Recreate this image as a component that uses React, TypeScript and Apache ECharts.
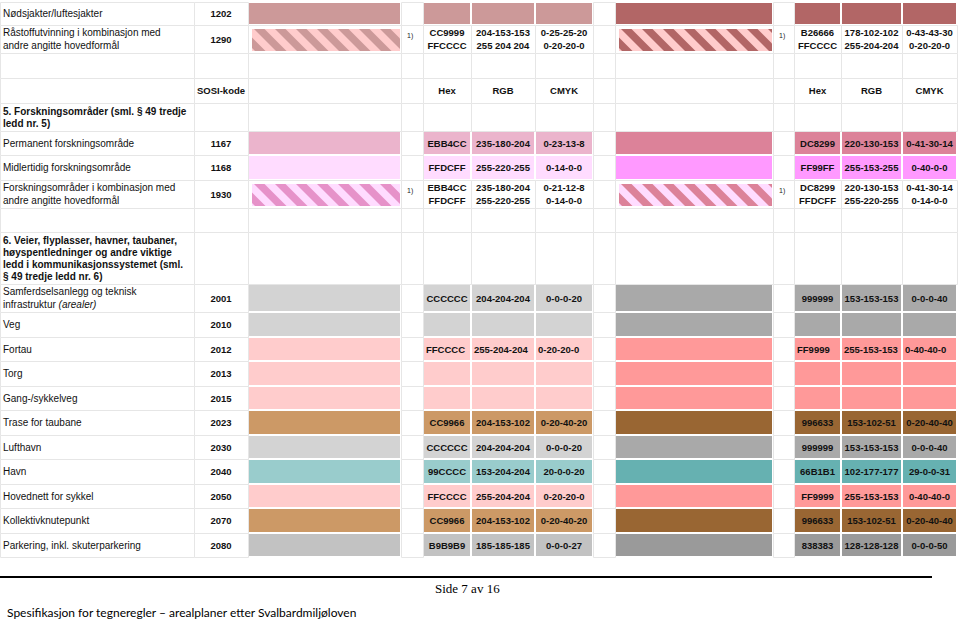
import React, { useEffect, useRef } from "react";
import * as echarts from "echarts";

// ---------- data ----------
const rowKinds = [
  "color", "hatch", "blank", "header", "section", "color", "color", "hatch", "blank", "section",
  "color", "color", "color", "color", "color", "color", "color", "color", "color", "color", "color",
];

const rowNames = [
  "Nødsjakter/luftesjakter",
  "Råstoffutvinning i kombinasjon med\nandre angitte hovedformål",
  "",
  "",
  "5. Forskningsområder (sml. § 49 tredje\nledd nr. 5)",
  "Permanent forskningsområde",
  "Midlertidig forskningsområde",
  "Forskningsområder i kombinasjon med\nandre angitte hovedformål",
  "",
  "6. Veier, flyplasser, havner, taubaner,\nhøyspentledninger og andre viktige\nledd i kommunikasjonssystemet (sml.\n§ 49 tredje ledd nr. 6)",
  "Samferdselsanlegg og teknisk\ninfrastruktur {i|(arealer)}",
  "Veg",
  "Fortau",
  "Torg",
  "Gang-/sykkelveg",
  "Trase for taubane",
  "Lufthavn",
  "Havn",
  "Hovednett for sykkel",
  "Kollektivknutepunkt",
  "Parkering, inkl. skuterparkering",
];

const sosiCodes = [
  "1202", "1290", "", "SOSI-kode", "", "1167", "1168", "1930", "", "",
  "2001", "2010", "2012", "2013", "2015", "2023", "2030", "2040", "2050", "2070", "2080",
];

const fill1 = [
  "#CC9999", "#CC9999", "", "", "", "#EBB4CC", "#FFDCFF", "#E692C9", "", "",
  "#D3D3D3", "#D3D3D3", "#FFCCCC", "#FFCCCC", "#FFCCCC", "#CC9966", "#D3D3D3", "#99CCCC", "#FFCCCC", "#CC9966", "#C2C2C2",
];
const hatchBg1 = ["", "#FFCCCC", "", "", "", "", "", "#FFDCFF", "", "", "", "", "", "", "", "", "", "", "", "", ""];

const fill2 = [
  "#B26666", "#B26666", "", "", "", "#DC8299", "#FF99FF", "#DC8299", "", "",
  "#A9A9A9", "#A9A9A9", "#FF9999", "#FF9999", "#FF9999", "#996633", "#A9A9A9", "#66B1B1", "#FF9999", "#996633", "#9A9A9A",
];
const hatchBg2 = ["", "#FFCCCC", "", "", "", "", "", "#FFDCFF", "", "", "", "", "", "", "", "", "", "", "", "", ""];

const hex1 = ["", "CC9999\nFFCCCC", "", "Hex", "", "EBB4CC", "FFDCFF", "EBB4CC\nFFDCFF", "", "",
  "CCCCCC", "", "FFCCCC", "", "", "CC9966", "CCCCCC", "99CCCC", "FFCCCC", "CC9966", "B9B9B9"];
const rgb1 = ["", "204-153-153\n255 204 204", "", "RGB", "", "235-180-204", "255-220-255", "235-180-204\n255-220-255", "", "",
  "204-204-204", "", "255-204-204", "", "", "204-153-102", "204-204-204", "153-204-204", "255-204-204", "204-153-102", "185-185-185"];
const cmyk1 = ["", "0-25-25-20\n0-20-20-0", "", "CMYK", "", "0-23-13-8", "0-14-0-0", "0-21-12-8\n0-14-0-0", "", "",
  "0-0-0-20", "", "0-20-20-0", "", "", "0-20-40-20", "0-0-0-20", "20-0-0-20", "0-20-20-0", "0-20-40-20", "0-0-0-27"];
const hex2 = ["", "B26666\nFFCCCC", "", "Hex", "", "DC8299", "FF99FF", "DC8299\nFFDCFF", "", "",
  "999999", "", "FF9999", "", "", "996633", "999999", "66B1B1", "FF9999", "996633", "838383"];
const rgb2 = ["", "178-102-102\n255-204-204", "", "RGB", "", "220-130-153", "255-153-255", "220-130-153\n255-220-255", "", "",
  "153-153-153", "", "255-153-153", "", "", "153-102-51", "153-153-153", "102-177-177", "255-153-153", "153-102-51", "128-128-128"];
const cmyk2 = ["", "0-43-43-30\n0-20-20-0", "", "CMYK", "", "0-41-30-14", "0-40-0-0", "0-41-30-14\n0-14-0-0", "", "",
  "0-0-0-40", "", "0-40-40-0", "", "", "0-20-40-40", "0-0-0-40", "29-0-0-31", "0-40-40-0", "0-20-40-40", "0-0-0-50"];
const footnotes = ["", "1)", "", "", "", "", "", "1)", "", "", "", "", "", "", "", "", "", "", "", "", ""];
const leftAlignedRows = [12];

const pageNumber = "Side 7 av 16";
const footerTitle = "Spesifikasjon for tegneregler – arealplaner etter Svalbardmiljøloven";

// ---------- layout ----------
const colEdges = [0, 194, 248, 401, 423, 471, 535, 593, 615, 773, 794, 841, 902, 957];
const rowHeights = [23, 28, 25, 25, 28, 24, 25, 28, 24, 52, 28, 25, 24, 25, 24, 25, 24, 25, 24, 25, 24];
const rowStart = 2;
const rowTops: number[] = [];
{
  let y = rowStart;
  for (const h of rowHeights) {
    rowTops.push(y);
    y += h;
  }
}
const FONT = "'Liberation Sans', Arial, Helvetica, sans-serif";
const BORDER = "#E6E6E6";
const STRIPE_PERIOD = 21;
const STRIPE_WIDTH = 10.5;

function clipPoly(pts: number[][], x0: number, x1: number) {
  const clip = (p: number[][], keep: (q: number[]) => boolean, bound: number) => {
    const out: number[][] = [];
    for (let i = 0; i < p.length; i++) {
      const a = p[i];
      const b = p[(i + 1) % p.length];
      const ia = keep(a);
      const ib = keep(b);
      if (ia) out.push(a);
      if (ia !== ib) {
        const t = (bound - a[0]) / (b[0] - a[0]);
        out.push([bound, a[1] + t * (b[1] - a[1])]);
      }
    }
    return out;
  };
  let r = clip(pts, (q) => q[0] >= x0, x0);
  if (r.length) r = clip(r, (q) => q[0] <= x1, x1);
  return r;
}

function cellFill(i: number, c: number): string {
  if (rowKinds[i] !== "color") return "";
  if (c === 2 || c === 4 || c === 5 || c === 6) return fill1[i];
  if (c === 8 || c === 10 || c === 11 || c === 12) return fill2[i];
  return "";
}

function renderItem(params: any, api: any) {
  const i = params.dataIndex;
  const top = rowTops[i];
  const bot = top + rowHeights[i];
  const kind = rowKinds[i];
  const P = (x: number, y: number) => api.coord([x, y]);
  const children: any[] = [];

  for (let c = 0; c < colEdges.length - 1; c++) {
    const x0 = colEdges[c];
    const x1 = colEdges[c + 1];
    const fill = cellFill(i, c);
    if (fill) {
      const a = P(x0 + 1, top + 1);
      const b = P(x1 - 1, bot - 1);
      children.push({ type: "rect", shape: { x: a[0], y: a[1], width: b[0] - a[0], height: b[1] - a[1] }, style: { fill } });
    } else {
      const a = P(x0, top);
      const b = P(x1, bot);
      children.push({
        type: "rect",
        shape: { x: a[0] + 0.5, y: a[1] + 0.5, width: b[0] - a[0], height: b[1] - a[1] },
        style: { fill: "#ffffff", stroke: BORDER, lineWidth: 1 },
      });
    }
  }

  // hatched symbols
  if (kind === "hatch") {
    const sets = [
      { c: 2, stripe: fill1[i], bg: hatchBg1[i] },
      { c: 8, stripe: fill2[i], bg: hatchBg2[i] },
    ];
    for (const s of sets) {
      const hx0 = colEdges[s.c] + 4;
      const hx1 = colEdges[s.c + 1] - 1;
      const hy0 = top + 4;
      const hy1 = bot - 2;
      const a = P(hx0, hy0);
      const b = P(hx1, hy1);
      children.push({ type: "rect", shape: { x: a[0], y: a[1], width: b[0] - a[0], height: b[1] - a[1] }, style: { fill: s.bg } });
      const H = hy1 - hy0;
      const kMin = Math.floor((-H - STRIPE_WIDTH) / STRIPE_PERIOD) - 1;
      const kMax = Math.ceil((hx1 - hx0) / STRIPE_PERIOD) + 1;
      for (let k = kMin; k <= kMax; k++) {
        const s0 = hx0 + 2 + k * STRIPE_PERIOD;
        const poly = [
          [s0, hy0],
          [s0 + STRIPE_WIDTH, hy0],
          [s0 + STRIPE_WIDTH + H, hy1],
          [s0 + H, hy1],
        ];
        const clipped = clipPoly(poly, hx0, hx1);
        if (clipped.length >= 3) {
          children.push({
            type: "polygon",
            shape: { points: clipped.map((p) => P(p[0], p[1])) },
            style: { fill: s.stripe },
          });
        }
      }
    }
  }

  const midY = (top + bot) / 2;
  // name
  if (rowNames[i]) {
    const p = P(colEdges[0] + 3, midY);
    const bold = kind === "section";
    children.push({
      type: "text",
      x: p[0],
      y: p[1],
      style: {
        text: rowNames[i],
        font: (bold ? "bold " : "") + "10px " + FONT,
        fill: "#111111",
        align: "left",
        verticalAlign: "middle",
        textAlign: "left",
        textVerticalAlign: "middle",
        lineHeight: kind === "section" ? 12 : 12.5,
        rich: { i: { fontStyle: "italic", fontSize: 10, fontFamily: FONT, fill: "#111111", lineHeight: 12.5 } },
      },
    });
  }

  const boldText = (c: number, text: string) => {
    if (!text) return;
    const left = leftAlignedRows.indexOf(i) >= 0 && c >= 4;
    const x = left ? colEdges[c] + 3 : (colEdges[c] + colEdges[c + 1]) / 2;
    const p = P(x, midY);
    children.push({
      type: "text",
      x: p[0],
      y: p[1],
      style: {
        text,
        font: "bold 9.5px " + FONT,
        fill: "#111111",
        align: left ? "left" : "center",
        verticalAlign: "middle",
        textAlign: left ? "left" : "center",
        textVerticalAlign: "middle",
        lineHeight: 12.5,
      },
    });
  };
  boldText(1, sosiCodes[i]);
  boldText(4, hex1[i]);
  boldText(5, rgb1[i]);
  boldText(6, cmyk1[i]);
  boldText(10, hex2[i]);
  boldText(11, rgb2[i]);
  boldText(12, cmyk2[i]);

  if (footnotes[i]) {
    for (const c of [3, 9]) {
      const p = P(colEdges[c] + 6, midY - 4);
      children.push({
        type: "text",
        x: p[0],
        y: p[1],
        style: {
          text: footnotes[i],
          font: "7px " + FONT,
          fill: "#222222",
          align: "left",
          verticalAlign: "middle",
          textAlign: "left",
          textVerticalAlign: "middle",
        },
      });
    }
  }

  return { type: "group", children };
}

export default function App() {
  const ref = useRef<HTMLDivElement>(null);
  useEffect(() => {
    if (!ref.current) return;
    const chart = echarts.init(ref.current, undefined, { renderer: "svg" });
    chart.setOption({
      animation: false,
      backgroundColor: "#ffffff",
      grid: { left: 0, right: 0, top: 0, bottom: 0 },
      xAxis: { type: "value", min: 0, max: 959, show: false },
      yAxis: { type: "value", min: 0, max: 620, inverse: true, show: false },
      series: [
        {
          type: "custom",
          coordinateSystem: "cartesian2d",
          clip: false,
          silent: true,
          data: rowNames.map((_, i) => [0, rowTops[i]]),
          renderItem,
        },
      ],
      graphic: [
        {
          type: "line",
          shape: { x1: 0, y1: 577, x2: 932, y2: 577 },
          style: { stroke: "#000000", lineWidth: 2 },
        },
        {
          type: "text",
          x: 435,
          y: 588,
          style: {
            text: pageNumber,
            font: "13px 'Liberation Serif', 'Times New Roman', serif",
            fill: "#000000",
            textVerticalAlign: "middle",
            verticalAlign: "middle",
          },
        },
        {
          type: "text",
          x: 7,
          y: 612,
          style: {
            text: footerTitle,
            font: "12px Lato, 'Open Sans', sans-serif",
            fill: "#000000",
            textVerticalAlign: "middle",
            verticalAlign: "middle",
          },
        },
      ],
    });
    return () => chart.dispose();
  }, []);
  return (
    <div
      ref={ref}
      style={{ position: "fixed", left: 0, top: 0, width: 959, height: 620, background: "#fff" }}
    />
  );
}
